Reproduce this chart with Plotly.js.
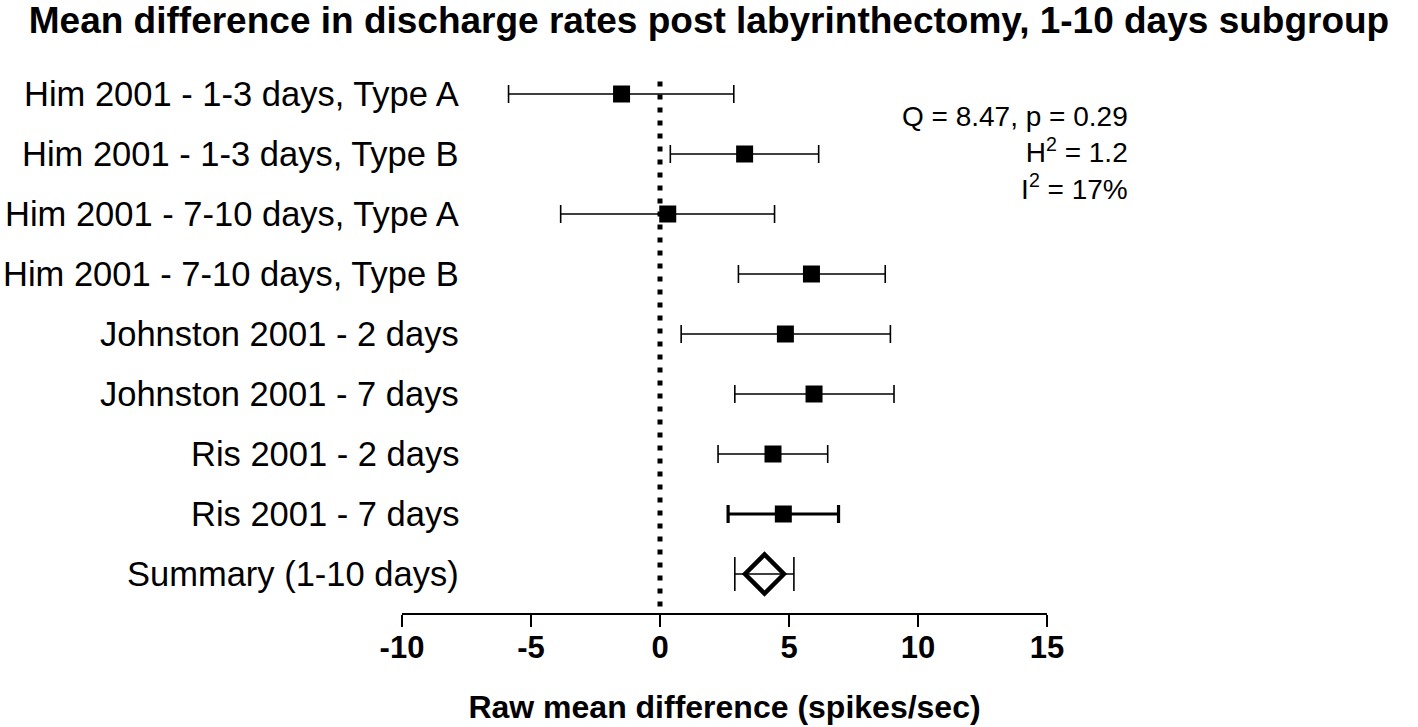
<!DOCTYPE html>
<html>
<head>
<meta charset="utf-8">
<script src="https://cdn.plot.ly/plotly-3.0.1.min.js"></script>
<style>html,body{margin:0;padding:0;background:#fff;}#chart{width:1418px;height:727px;}</style>
</head>
<body>
<div id="chart"></div>
<script>
const studyLabels = [
  "Him 2001 - 1-3 days, Type A",
  "Him 2001 - 1-3 days, Type B",
  "Him 2001 - 7-10 days, Type A",
  "Him 2001 - 7-10 days, Type B",
  "Johnston 2001 - 2 days",
  "Johnston 2001 - 7 days",
  "Ris 2001 - 2 days",
  "Ris 2001 - 7 days",
  "Summary (1-10 days)"
];
const meanDiff = [-1.49, 3.28, 0.30, 5.87, 4.86, 5.97, 4.38, 4.78, 4.05];
const lowerCI  = [-5.87, 0.40, -3.85, 3.04, 0.82, 2.90, 2.25, 2.64, 2.90];
const upperCI  = [2.86, 6.15, 4.44, 8.73, 8.93, 9.07, 6.50, 6.92, 5.19];
const xTickVals = [-10, -5, 0, 5, 10, 15];
const statLines = ["Q = 8.47, p = 0.29", "H<sup>2</sup> = 1.2", "I<sup>2</sup> = 17%"];

const rowIdx = studyLabels.map((_, i) => i);
function slice(a, s, e) { return a.slice(s, e); }
function mk(s, e, opts) {
  const x = slice(meanDiff, s, e);
  return Object.assign({
    type: 'scatter', mode: 'markers',
    x: x, y: slice(rowIdx, s, e),
    error_x: {
      type: 'data', symmetric: false,
      array: slice(upperCI, s, e).map((u, i) => u - x[i]),
      arrayminus: slice(lowerCI, s, e).map((l, i) => x[i] - l),
      color: '#000', thickness: opts.thick, width: opts.cap
    },
    hoverinfo: 'skip', showlegend: false
  }, opts.extra);
}
const traces = [
  mk(0, 7, {thick: 1.6, cap: 9, extra: {marker: {symbol: 'square', size: 17, color: '#000'}}}),
  mk(7, 8, {thick: 3.2, cap: 9, extra: {marker: {symbol: 'square', size: 17, color: '#000'}}}),
  mk(8, 9, {thick: 1.6, cap: 17, extra: {marker: {symbol: 'diamond-open', size: 30, color: '#000', line: {width: 4.5, color: '#000'}}}})
];

const FONT = '"Liberation Sans", Arial, Helvetica, sans-serif';
const annotations = studyLabels.map((t, i) => ({
  xref: 'paper', yref: 'y', x: 0.0915, y: i, xanchor: 'right', yanchor: 'middle',
  text: t, showarrow: false, font: {family: FONT, size: 34.5, color: '#000'}
}));
annotations.push({
  xref: 'paper', yref: 'paper', x: 1.128, y: 0.957, xanchor: 'right', yanchor: 'top',
  align: 'right', text: statLines.join('<br>'), showarrow: false,
  font: {family: FONT, size: 28, color: '#000'}
});

const layout = {
  width: 1418, height: 727,
  margin: {l: 402, r: 371, t: 76, b: 114},
  paper_bgcolor: '#fff', plot_bgcolor: '#fff',
  font: {family: FONT, color: '#000'},
  title: {
    text: '<b>Mean difference in discharge rates post labyrinthectomy, 1-10 days subgroup</b>',
    x: 0.5, xref: 'container', y: 1 - 20/727, yref: 'container', yanchor: 'middle',
    font: {family: FONT, size: 37, color: '#000'}
  },
  xaxis: {
    range: [-10, 15], tickvals: xTickVals, ticktext: xTickVals.map(String),
    showgrid: false, zeroline: false, showline: true, linecolor: '#000', linewidth: 2,
    ticks: 'outside', ticklen: 12, tickwidth: 2, tickcolor: '#000',
    ticklabelstandoff: -6,
    tickfont: {family: FONT, size: 31, color: '#000', weight: 'bold'},
    title: {text: '<b>Raw mean difference (spikes/sec)</b>', standoff: 31,
            font: {family: FONT, size: 32, color: '#000'}},
    fixedrange: true
  },
  yaxis: {
    range: [8.65, -0.3], showgrid: false, zeroline: false, showline: false,
    showticklabels: false, ticks: '', fixedrange: true
  },
  shapes: [{
    type: 'line', xref: 'x', yref: 'paper', x0: 0, x1: 0, y0: 0.012, y1: 1,
    line: {color: '#000', width: 5, dash: '5px,8px'}, layer: 'below'
  }],
  annotations: annotations
};
Plotly.newPlot('chart', traces, layout, {displayModeBar: false, staticPlot: true});
</script>
</body>
</html>
